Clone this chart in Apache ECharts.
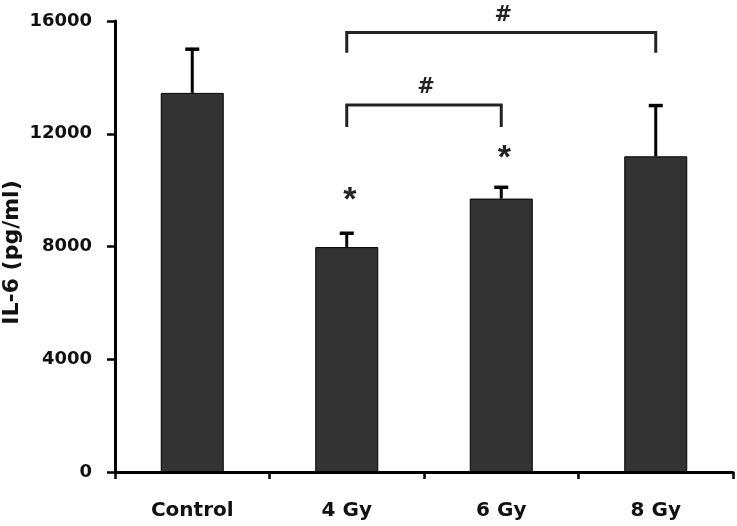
<!DOCTYPE html>
<html><head><meta charset="utf-8">
<script src="https://cdn.jsdelivr.net/npm/echarts@6/dist/echarts.min.js"></script>
<style>html,body{margin:0;padding:0;background:#fff}#c{width:737px;height:526px}</style>
</head><body><div id="c"></div>
<script>
const categories = ['Control', '4 Gy', '6 Gy', '8 Gy'];
const means = [13450, 7980, 9700, 11200];
const errorTops = [15000, 8470, 10100, 13000];
const yTicks = [0, 4000, 8000, 12000, 16000];
// brackets: [fromIdx, toIdx, topValue, legBottomValue, label]
const brackets = [
  [1, 3, 15590, 14870, '#'],
  [1, 2, 13020, 12240, '#']
];
// significance marks: [categoryIdx, value, text]
const marks = [
  [1, 9830, '*'],
  [2, 11320, '*']
];

const FONT = '"DejaVu Sans", Verdana, sans-serif';
const chart = echarts.init(document.getElementById('c'));
chart.setOption({
  animation: false,
  backgroundColor: '#fff',
  grid: { left: 115, right: 4, top: 21, bottom: 54, containLabel: false, outerBoundsMode: 'none' },
  xAxis: {
    type: 'category', data: categories,
    axisLine: { lineStyle: { color: '#000', width: 3 } },
    axisTick: { show: true, length: 7, lineStyle: { color: '#000', width: 2.5 } },
    axisLabel: { color: '#111', fontFamily: FONT, fontWeight: 'bold', fontSize: 20, margin: 29 }
  },
  yAxis: {
    type: 'value', min: yTicks[0], max: yTicks[yTicks.length - 1], interval: 4000,
    name: 'IL-6 (pg/ml)', nameLocation: 'middle', nameGap: 92, nameMoveOverlap: false,
    nameTextStyle: { color: '#111', fontFamily: FONT, fontWeight: 'bold', fontSize: 22, padding: [0, 12, 0, 0] },
    axisLine: { show: true, lineStyle: { color: '#000', width: 3 } },
    axisTick: { show: true, length: 8, lineStyle: { color: '#000', width: 2.5 } },
    splitLine: { show: false },
    axisLabel: { color: '#111', fontFamily: FONT, fontWeight: 'bold', fontSize: 18, margin: 23,
      formatter: v => String(v) }
  },
  series: [
    {
      type: 'bar', data: means, barWidth: 63, z: 2,
      itemStyle: { color: '#333333', borderColor: '#000', borderWidth: 1 }
    },
    {
      type: 'custom', z: 1,
      data: means.map((m, i) => [i, m, errorTops[i]]),
      renderItem: (params, api) => {
        const base = api.coord([api.value(0), api.value(1)]);
        const top = api.coord([api.value(0), api.value(2)]);
        return { type: 'group', children: [
          { type: 'line', shape: { x1: base[0], y1: base[1], x2: top[0], y2: top[1] }, style: { stroke: '#000', lineWidth: 3 } },
          { type: 'line', shape: { x1: top[0] - 7, y1: top[1], x2: top[0] + 7, y2: top[1] }, style: { stroke: '#000', lineWidth: 3.5 } }
        ]};
      }
    },
    {
      type: 'custom', z: 3,
      data: brackets,
      renderItem: (params, api) => {
        const b = brackets[params.dataIndex];
        const a1 = api.coord([b[0], b[2]]);
        const a2 = api.coord([b[1], b[2]]);
        const l1 = api.coord([b[0], b[3]]);
        const l2 = api.coord([b[1], b[3]]);
        return { type: 'group', children: [
          { type: 'polyline', shape: { points: [[l1[0], l1[1]], [a1[0], a1[1]], [a2[0], a2[1]], [l2[0], l2[1]]] },
            style: { stroke: '#222', lineWidth: 3, fill: null } },
          { type: 'text', x: (a1[0] + a2[0]) / 2 + 2, y: a1[1] - 17,
            style: { text: b[4], font: 'bold 21px ' + FONT, fill: '#222', textAlign: 'center', textVerticalAlign: 'middle' } }
        ]};
      }
    },
    {
      type: 'custom', z: 3,
      data: marks,
      renderItem: (params, api) => {
        const m = marks[params.dataIndex];
        const p = api.coord([m[0], m[1]]);
        return { type: 'text', x: p[0] + 3, y: p[1] + 6,
          style: { text: m[2], font: 'bold 34px "Liberation Sans", Arial, sans-serif', fill: '#222', textAlign: 'center', textVerticalAlign: 'middle' } };
      }
    }
  ]
});
</script></body></html>
